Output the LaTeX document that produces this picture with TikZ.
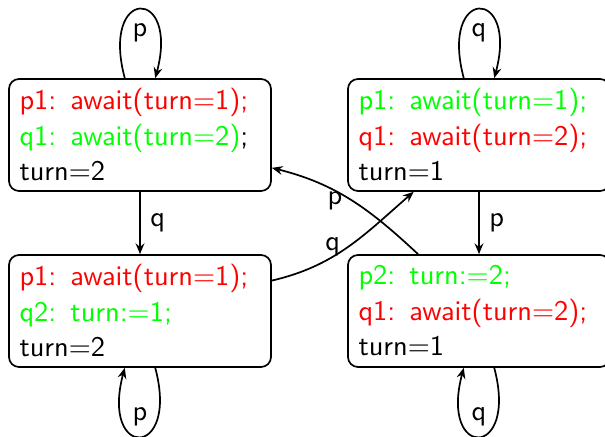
\documentclass[tikz,border=0pt]{standalone}
\usetikzlibrary{arrows.meta}
\begin{document}
\begin{tikzpicture}[x=0.352pt, y=0.352pt,
  font=\sffamily\fontsize{10}{12.5}\selectfont,
  >={Stealth[length=3.8pt,width=3.1pt,inset=1.3pt]},
  every path/.style={line width=0.6pt},
  state/.style={draw, rounded corners=3.52pt, line width=0.6pt,
    minimum width=92.22pt, minimum height=39.42pt,
    text width=84.83pt, inner xsep=3.70pt, inner ysep=0pt, align=left},
  lbl/.style={inner sep=3.33pt}]
\useasboundingbox (0,0) rectangle (605,437);

% the four states of the turn-based protocol
\node[state] (pq11) at (140,302) {\textcolor{red}{p1: await(turn=1);}\\
  \textcolor{green}{q1: await(turn=2)};\\ turn=2};
\node[state] (pq12) at (140,126) {\textcolor{red}{p1: await(turn=1);}\\
  \textcolor{green}{q2: turn:=1;}\\ turn=2};
\node[state] (pq11b) at (479,302) {\textcolor{green}{p1: await(turn=1);}\\
  \textcolor{red}{q1: await(turn=2);}\\ turn=1};
\node[state] (pq21) at (479,126) {\textcolor{green}{p2: turn:=2;}\\
  \textcolor{red}{q1: await(turn=2);}\\ turn=1};

% self loops
\draw[->] (pq11) to[loop above] node[lbl,below=1.3pt] {p} (pq11);
\draw[->] (pq11b) to[loop above] node[lbl,below=1.3pt] {q} (pq11b);
\draw[->] (pq12) to[loop below] node[lbl,above] {p} (pq12);
\draw[->] (pq21) to[loop below] node[lbl,above] {q} (pq21);

% transitions
\draw[->] (pq11) -- node[lbl,right] {q} (pq12);
\draw[->] (pq11b) -- node[lbl,right] {p} (pq21);
\draw[->] (pq21) to[out=137,in=-14] node[pos=0.54,anchor=north east,inner sep=0.8pt,yshift=3pt] {p} (pq11);
\draw[->] (pq12) to[out=13,in=221] node[pos=0.5,anchor=east,inner sep=2.5pt] {q} (pq11b);
\end{tikzpicture}
\end{document}
